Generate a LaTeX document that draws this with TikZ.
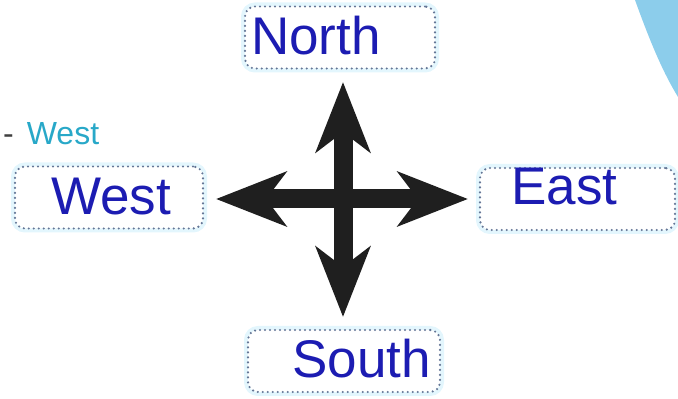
\documentclass[tikz,border=0pt]{standalone}
\usepackage{fontspec}
\setmainfont{Liberation Sans}
\usepackage{xcolor}
\usepackage{tikz}
\usetikzlibrary{arrows.meta,positioning,calc}

\definecolor{dirblue}{RGB}{28,28,178}
\definecolor{tealtxt}{RGB}{40,168,200}
\definecolor{dotgray}{RGB}{100,118,150}
\definecolor{arcblue}{RGB}{140,205,235}

\begin{document}
\begin{tikzpicture}[
    x=1pt, y=1pt,
    dirbox/.style={rectangle, rounded corners=10pt,
                   draw=dotgray, line width=2.4pt, line cap=round,
                   dash pattern=on 0pt off 5pt, fill=white,
                   preaction={draw=cyan!11, line width=8pt, solid},
                   minimum height=62pt, inner sep=0pt},
    dirtxt/.style={anchor=base west, inner sep=0pt, text=dirblue,
                   font=\fontsize{53}{60}\selectfont},
    shaft/.style={line width=19pt, draw=black!88,
                  -{Stealth[length=70pt, width=54pt, inset=20pt]}},
]
\useasboundingbox (0,0) rectangle (678,399);

%% ─── Background arc ─────────────────────────────────────────────────────────
\fill[arcblue] (635,399) .. controls (652,352) and (664,325) .. (678,302)
    -- (678,399) -- cycle;

%% ─── Caption ────────────────────────────────────────────────────────────────
\node[anchor=base west, inner sep=0pt, font=\fontsize{32}{36}\selectfont]
    (cap) at (3,254)
    {\textcolor{black!75}{-}\hspace{13pt}\textcolor{tealtxt}{West}};

%% ─── Boxes ──────────────────────────────────────────────────────────────────
\node[dirbox, minimum width=190pt] (nbox) at (340,361.5) {};
\node[dirbox, minimum width=188pt] (wbox) at (109,201.5) {};
\node[dirbox, minimum width=195pt] (ebox) at (577.5,200) {};
\node[dirbox, minimum width=192pt] (sbox) at (344,38)    {};

%% ─── Labels ─────────────────────────────────────────────────────────────────
\node[dirtxt] (ntxt) at (251,344) {North};
\node[dirtxt] (wtxt) at (51,184)  {West};
\node[dirtxt] (etxt) at (511,194) {East};
\node[dirtxt] (stxt) at (292,21)  {South};

%% ─── Compass cross ──────────────────────────────────────────────────────────
\coordinate (c)  at (343,200);
\coordinate (nt) at (343,317);
\coordinate (st) at (343,82);
\coordinate (wt) at (216,200);
\coordinate (et) at (468,200);

\draw[shaft] (c) -- (wt);
\draw[shaft] (c) -- (et);
\draw[shaft] (c) -- (nt);
\draw[shaft] (c) -- (st);

\end{tikzpicture}
\end{document}
